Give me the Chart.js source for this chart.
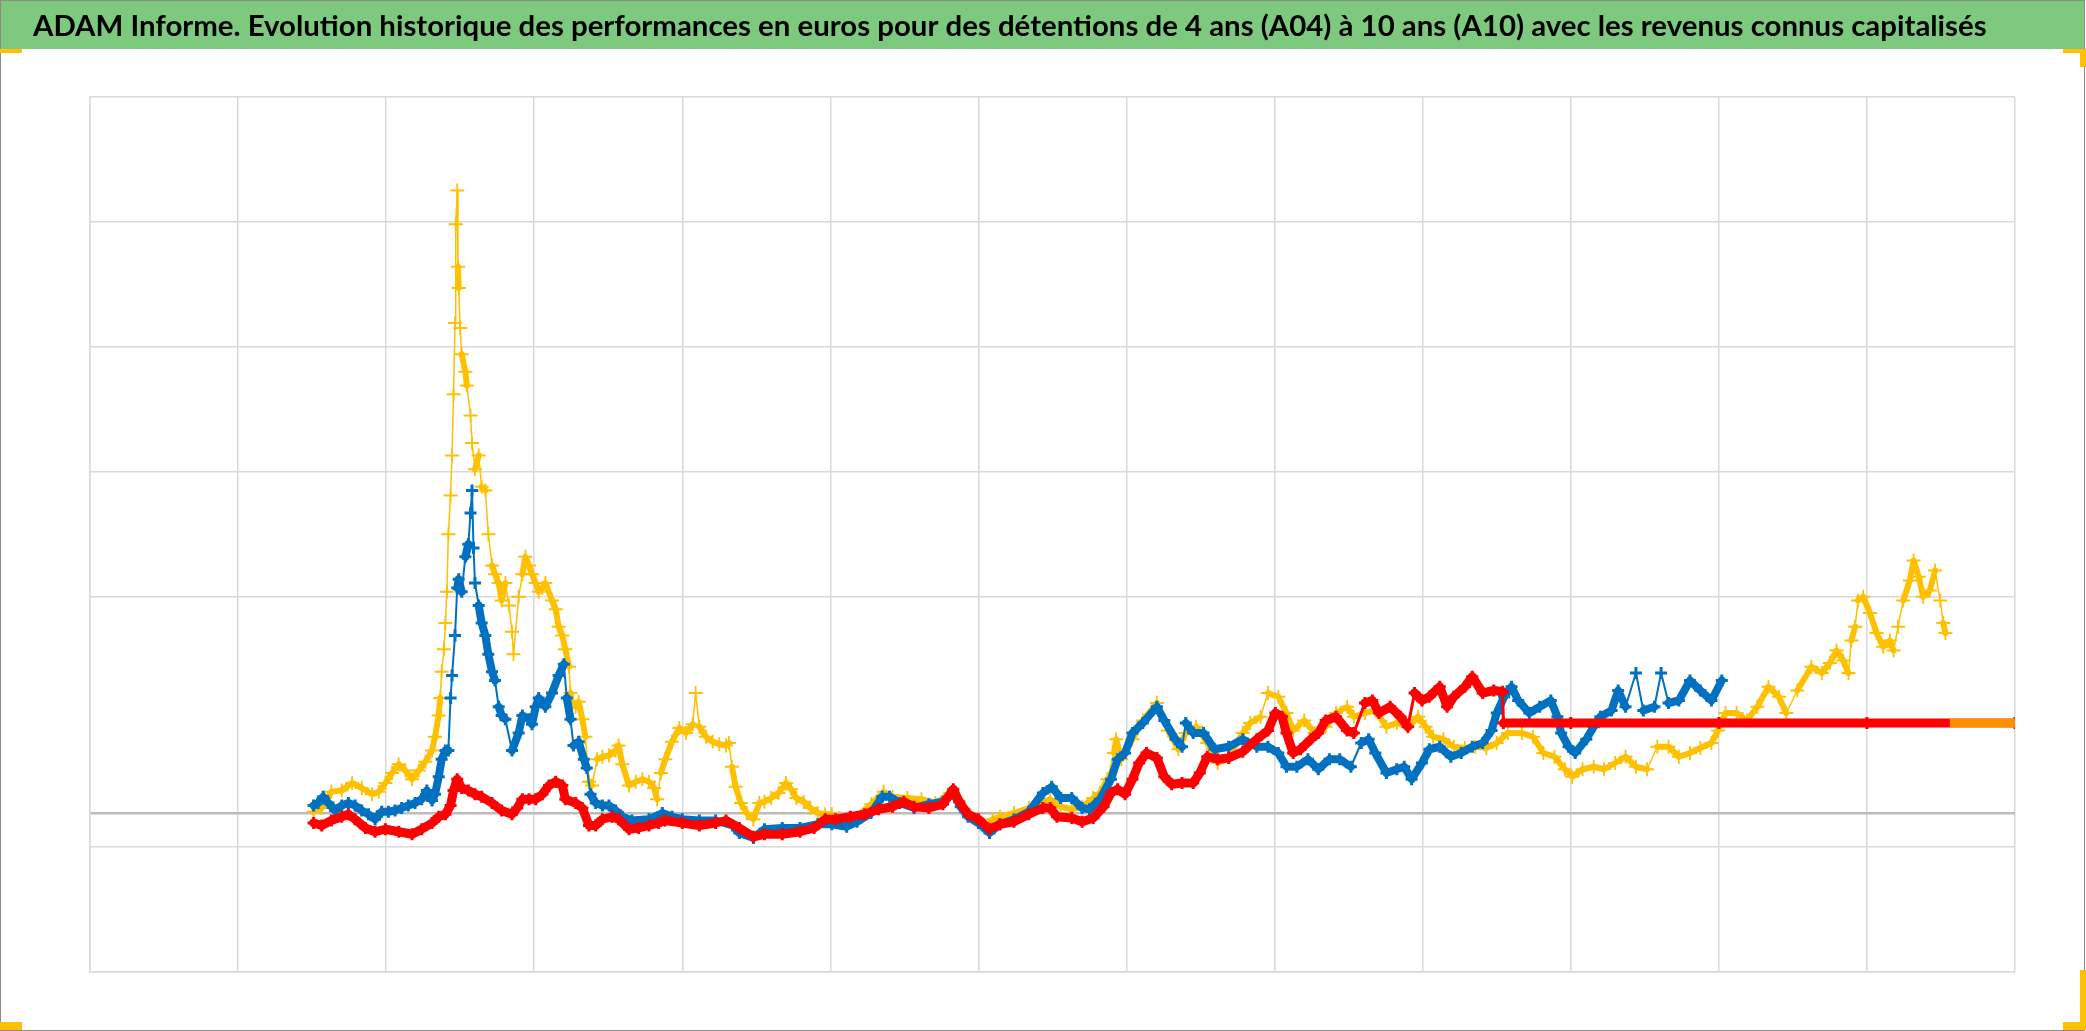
<!DOCTYPE html>
<html lang="fr">
<head>
<meta charset="utf-8">
<title>ADAM Informe</title>
<script src="https://cdn.jsdelivr.net/npm/chart.js@4.4.1/dist/chart.umd.min.js"></script>
<style>
  html, body { margin: 0; padding: 0; background: #ffffff; }
  canvas { display: block; }
</style>
</head>
<body>
<canvas id="c" width="2086" height="1031"></canvas>
<script>
// ---- Texts ----
const TITLE = "ADAM Informe. Evolution historique des performances en euros pour des détentions de 4 ans (A04) à 10 ans (A10) avec les revenus connus capitalisés";
const SERIES_NAMES = ["A04", "A07", "A10"];

// ---- Axis grid values (no labels are shown on the original) ----
const xGridMin = 0;
const xGridMax = 26;
const xGridStep = 2;
const yGridValues = [-127.2, -27.2, 0, 172.8, 272.8, 372.8, 472.8, 572.8];

// ---- Series values: [x (years), y (%)] ----
const a04 = [
  [3.02,1],[3.13,4],[3.26,17],[3.40,18],[3.54,24],[3.67,20],[3.81,15],[3.90,17],[3.99,24],[4.08,32],
  [4.17,39],[4.26,34],[4.35,27],[4.44,34],[4.53,41],[4.62,50],[4.66,61],[4.71,78],[4.73,92],[4.75,113],
  [4.78,131],[4.80,152],[4.82,177],[4.84,223],[4.87,254],[4.89,286],[4.91,335],[4.93,392],[4.94,471],[4.96,498],
  [4.97,437],[4.98,420],[5.00,388],[5.02,367],[5.07,353],[5.09,342],[5.14,318],[5.16,296],[5.20,275],[5.25,286],
  [5.29,261],[5.34,258],[5.38,223],[5.43,198],[5.47,191],[5.52,184],[5.56,170],[5.61,184],[5.66,166],[5.70,145],
  [5.72,127],[5.79,173],[5.84,191],[5.88,205],[5.93,198],[5.97,191],[6.02,184],[6.06,177],[6.11,180],[6.15,184],
  [6.24,170],[6.29,163],[6.33,149],[6.38,142],[6.42,131],[6.47,117],[6.49,96],[6.51,87],[6.56,85],[6.60,89],
  [6.65,75],[6.69,61],[6.74,25],[6.78,22],[6.85,43],[6.92,45],[7.01,46],[7.10,50],[7.14,54],[7.19,39],
  [7.28,22],[7.37,25],[7.46,27],[7.55,25],[7.62,20],[7.66,11],[7.71,32],[7.77,43],[7.86,57],[7.96,68],
  [8.05,64],[8.14,71],[8.18,96],[8.23,69],[8.32,61],[8.41,57],[8.50,55],[8.59,54],[8.63,56],[8.67,37],
  [8.72,21],[8.79,8],[8.87,0],[8.96,-5],[9.04,8],[9.11,9],[9.20,12],[9.30,16],[9.40,24],[9.47,19],
  [9.54,12],[9.64,9],[9.73,4],[9.83,0],[9.93,-1],[10.02,-1],[10.12,-4],[10.31,-5],[10.55,7],[10.72,17],
  [10.84,13],[11.04,12],[11.23,11],[11.42,8],[11.62,16],[11.71,11],[11.81,3],[11.95,-5],[12.10,-12],[12.19,-5],
  [12.29,-3],[12.48,0],[12.68,4],[12.82,8],[12.97,11],[13.11,5],[13.26,3],[13.40,5],[13.55,12],[13.64,16],
  [13.74,27],[13.83,48],[13.86,59],[13.93,43],[14.08,59],[14.22,74],[14.41,88],[14.56,66],[14.70,51],[14.80,64],
  [14.94,69],[15.09,56],[15.23,40],[15.38,45],[15.57,64],[15.67,72],[15.81,77],[15.91,96],[16.05,93],[16.16,80],
  [16.25,66],[16.40,74],[16.54,64],[16.69,69],[16.83,80],[16.98,85],[17.07,77],[17.22,80],[17.36,82],[17.51,69],
  [17.65,72],[17.80,69],[17.94,77],[18.04,69],[18.14,61],[18.28,59],[18.42,53],[18.57,52],[18.71,53],[18.86,52],
  [19.00,56],[19.15,64],[19.34,64],[19.49,61],[19.63,48],[19.78,45],[19.92,35],[20.02,29],[20.16,35],[20.31,37],
  [20.45,35],[20.60,40],[20.74,45],[20.88,37],[21.03,35],[21.17,53],[21.32,53],[21.46,45],[21.61,48],[21.75,52],
  [21.90,56],[21.99,66],[22.09,80],[22.24,80],[22.38,74],[22.52,85],[22.67,101],[22.81,93],[22.91,80],[23.06,98],
  [23.25,117],[23.39,112],[23.50,120],[23.59,130],[23.68,122],[23.75,112],[23.79,138],[23.84,149],[23.88,170],[23.95,173],
  [24.04,160],[24.13,144],[24.22,133],[24.31,138],[24.36,130],[24.42,149],[24.49,170],[24.58,186],[24.63,202],[24.70,189],
  [24.76,173],[24.85,178],[24.92,194],[24.99,170],[25.03,152],[25.06,144]
];
const a04Tail = [[25.12,72],[25.50,72],[26.00,72]];

const a07 = [
  [3.02,6],[3.08,8],[3.15,13],[3.22,8],[3.31,2],[3.40,6],[3.49,8],[3.58,6],[3.67,2],[3.76,-1],
  [3.85,-5],[3.94,1],[4.03,1],[4.12,2],[4.21,4],[4.30,6],[4.39,8],[4.48,11],[4.55,18],[4.62,10],
  [4.66,15],[4.71,29],[4.75,43],[4.80,50],[4.84,50],[4.87,92],[4.89,110],[4.93,142],[4.96,180],[4.98,187],
  [5.02,177],[5.07,205],[5.11,215],[5.14,240],[5.16,258],[5.18,212],[5.20,184],[5.25,166],[5.29,152],[5.34,142],
  [5.38,127],[5.43,113],[5.47,106],[5.52,85],[5.56,78],[5.61,75],[5.70,50],[5.79,64],[5.84,78],[5.93,75],
  [5.97,71],[6.02,85],[6.06,92],[6.15,85],[6.24,96],[6.33,110],[6.40,119],[6.44,92],[6.49,75],[6.53,54],
  [6.60,57],[6.67,43],[6.71,36],[6.76,15],[6.83,8],[6.92,6],[7.01,6],[7.10,2],[7.19,-3],[7.32,-6],
  [7.55,-5],[7.73,0],[7.86,-3],[8.00,-5],[8.23,-6],[8.45,-6],[8.68,-10],[8.77,-16],[8.96,-20],[9.11,-13],
  [9.35,-12],[9.59,-12],[9.83,-9],[10.02,-9],[10.22,-11],[10.36,-7],[10.55,0],[10.70,13],[10.80,13],[10.94,8],
  [11.13,4],[11.33,7],[11.52,9],[11.66,16],[11.76,5],[11.86,-3],[12.00,-8],[12.15,-16],[12.29,-9],[12.48,-5],
  [12.68,1],[12.87,16],[12.99,21],[13.11,12],[13.26,12],[13.40,4],[13.50,3],[13.64,11],[13.79,27],[13.88,43],
  [13.98,48],[14.08,64],[14.22,72],[14.41,85],[14.51,74],[14.66,59],[14.75,53],[14.80,72],[14.90,64],[15.04,64],
  [15.19,51],[15.38,53],[15.57,59],[15.76,53],[15.91,53],[16.05,48],[16.16,37],[16.30,37],[16.45,43],[16.59,35],
  [16.74,43],[16.88,43],[17.03,37],[17.17,56],[17.27,59],[17.36,48],[17.51,32],[17.65,35],[17.75,37],[17.85,27],
  [17.99,40],[18.09,51],[18.23,53],[18.38,45],[18.52,48],[18.67,53],[18.81,56],[18.93,66],[19.00,80],[19.10,93],
  [19.20,101],[19.29,90],[19.44,80],[19.58,85],[19.73,90],[19.82,77],[19.87,64],[19.97,53],[20.06,48],[20.21,59],
  [20.31,69],[20.40,77],[20.55,82],[20.64,98],[20.74,85],[20.88,112],[20.98,82],[21.13,85],[21.22,112],[21.32,88],
  [21.46,90],[21.61,106],[21.75,98],[21.90,90],[22.04,106]
];

const a10 = [
  [3.02,-8],[3.13,-10],[3.26,-6],[3.40,-3],[3.49,-1],[3.58,-5],[3.72,-12],[3.85,-15],[3.99,-13],[4.17,-15],
  [4.35,-17],[4.48,-13],[4.62,-8],[4.71,-3],[4.80,-1],[4.87,6],[4.91,18],[4.96,27],[5.02,20],[5.11,18],
  [5.20,15],[5.29,13],[5.43,8],[5.56,2],[5.70,-1],[5.77,4],[5.84,11],[5.93,11],[6.02,11],[6.11,15],
  [6.20,22],[6.29,25],[6.38,22],[6.42,11],[6.56,8],[6.65,4],[6.74,-10],[6.83,-10],[6.92,-5],[7.05,-3],
  [7.14,-5],[7.28,-13],[7.41,-12],[7.55,-10],[7.68,-8],[7.77,-6],[8.00,-8],[8.23,-10],[8.45,-8],[8.59,-6],
  [8.77,-12],[8.96,-19],[9.11,-17],[9.35,-17],[9.59,-15],[9.78,-12],[9.93,-5],[10.07,-5],[10.27,-3],[10.46,-1],
  [10.65,3],[10.84,5],[10.99,9],[11.13,5],[11.33,4],[11.52,7],[11.66,19],[11.74,9],[11.86,-1],[12.00,-5],
  [12.15,-13],[12.29,-9],[12.48,-7],[12.68,-1],[12.87,4],[12.97,4],[13.06,-3],[13.26,-4],[13.40,-7],[13.55,-4],
  [13.69,5],[13.79,16],[13.88,19],[13.98,15],[14.08,27],[14.17,40],[14.27,48],[14.41,44],[14.51,29],[14.61,23],
  [14.75,24],[14.90,24],[14.99,32],[15.09,45],[15.23,43],[15.38,44],[15.57,49],[15.76,59],[15.91,66],[16.01,80],
  [16.10,77],[16.16,64],[16.25,48],[16.35,51],[16.49,59],[16.59,64],[16.69,74],[16.83,77],[16.98,66],[17.07,64],
  [17.22,88],[17.32,90],[17.41,80],[17.56,85],[17.70,77],[17.80,69],[17.89,96],[17.99,90],[18.09,93],[18.23,101],
  [18.33,85],[18.42,93],[18.57,101],[18.67,109],[18.81,96],[18.96,98],[19.08,97],
  [19.09,72],[20.00,72],[22.00,72],[24.00,72],[26.00,72]
];

// ---- Colours ----
const COL_A04 = '#FFC000';
const COL_A07 = '#0070C0';
const COL_A10 = '#FF0000';

const toPts = arr => arr.map(([x, y]) => ({ x, y }));

// Steep jumps between successive readings are drawn thin (scattered markers in the original)
const steepWidth = (thick, thin) => ctx => {
  const dy = Math.abs(ctx.p1.y - ctx.p0.y);
  const dx = Math.abs(ctx.p1.x - ctx.p0.x);
  return (dy > 22 && dy > 2 * dx) ? thin : thick;
};

// ---- Title font sizing (fit the original text width) ----
const TITLE_FONT = 'Lato, "Open Sans", "DejaVu Sans", sans-serif';
const mctx = document.createElement('canvas').getContext('2d');
mctx.font = 'bold 30px ' + TITLE_FONT;
const titleSize = Math.round(30 * 1952 / mctx.measureText(TITLE).width * 10) / 10;
const titleLine = 1.2 * titleSize;
const titlePadTop = Math.max(0, 27 - titleLine / 2);
const titlePadBottom = 97 - titlePadTop - titleLine;

// ---- Decorations: white background, green title band, frame, selection handles ----
const decor = {
  id: 'decor',
  beforeDraw(chart) {
    const ctx = chart.ctx;
    const W = chart.width, H = chart.height;
    ctx.save();
    ctx.fillStyle = '#ffffff';
    ctx.fillRect(0, 0, W, H);
    ctx.fillStyle = '#7DC97D';
    ctx.fillRect(0, 0, 2085, 49);
    ctx.strokeStyle = '#8c8c8c';
    ctx.lineWidth = 1;
    ctx.strokeRect(0.5, 0.5, 2084, 1030);
    ctx.restore();
  },
  afterDraw(chart) {
    const ctx = chart.ctx;
    ctx.save();
    ctx.fillStyle = '#FFC000';
    ctx.fillRect(0, 49, 22, 4);
    ctx.fillRect(2063, 49, 23, 4);
    ctx.fillRect(2080, 49, 6, 18);
    ctx.fillRect(0, 1022, 22, 8);
    ctx.fillRect(2063, 1022, 23, 8);
    ctx.fillRect(2080, 970, 6, 60);
    ctx.restore();
  }
};

const common = {
  showLine: true,
  tension: 0,
  pointStyle: 'cross',
  pointHoverRadius: 0,
  borderJoinStyle: 'round',
  borderCapStyle: 'round'
};

new Chart(document.getElementById('c'), {
  type: 'scatter',
  data: {
    datasets: [
      Object.assign({}, common, {
        label: SERIES_NAMES[0] + ' (fin)',
        data: toPts(a04Tail),
        borderColor: 'rgba(255,192,0,0.75)',
        backgroundColor: 'rgba(255,192,0,0.75)',
        borderWidth: 9,
        borderCapStyle: 'butt',
        pointRadius: 0
      }),
      Object.assign({}, common, {
        label: SERIES_NAMES[2],
        data: toPts(a10),
        borderColor: COL_A10,
        backgroundColor: COL_A10,
        borderWidth: 9,
        pointRadius: 6,
        pointBorderWidth: 3,
        segment: { borderWidth: steepWidth(9, 3) }
      }),
      Object.assign({}, common, {
        label: SERIES_NAMES[1],
        data: toPts(a07),
        borderColor: COL_A07,
        backgroundColor: COL_A07,
        borderWidth: 8,
        pointRadius: 6,
        pointBorderWidth: 3,
        segment: { borderWidth: steepWidth(8, 2) }
      }),
      Object.assign({}, common, {
        label: SERIES_NAMES[0],
        data: toPts(a04),
        borderColor: COL_A04,
        backgroundColor: COL_A04,
        borderWidth: 6,
        pointRadius: 7,
        pointBorderWidth: 1.8,
        segment: { borderWidth: steepWidth(6, 1.5) }
      })
    ]
  },
  options: {
    responsive: false,
    animation: false,
    events: [],
    layout: { padding: { left: 33, right: 71, top: 0, bottom: 59 } },
    plugins: {
      legend: { display: false },
      tooltip: { enabled: false },
      title: {
        display: true,
        text: TITLE,
        align: 'start',
        color: '#000000',
        font: { family: TITLE_FONT, size: titleSize, weight: 'bold', lineHeight: 1.2 },
        padding: { top: titlePadTop, bottom: titlePadBottom }
      }
    },
    scales: {
      x: {
        type: 'linear',
        min: xGridMin,
        max: xGridMax,
        ticks: { display: false, stepSize: xGridStep },
        grid: { color: '#d9d9d9', lineWidth: 1.5, drawTicks: false },
        border: { display: true, color: '#d9d9d9', width: 1.5 }
      },
      y: {
        type: 'linear',
        min: yGridValues[0],
        max: yGridValues[yGridValues.length - 1],
        afterBuildTicks: scale => { scale.ticks = yGridValues.map(v => ({ value: v })); },
        afterFit: scale => { scale.width = 57; },
        ticks: { display: false },
        grid: {
          drawTicks: false,
          color: ctx => (ctx.tick && ctx.tick.value === 0) ? '#bcbcbc' : '#d9d9d9',
          lineWidth: ctx => (ctx.tick && ctx.tick.value === 0) ? 2.5 : 1.5
        },
        border: { display: true, color: '#d9d9d9', width: 1.5 }
      }
    }
  },
  plugins: [decor]
});
</script>
</body>
</html>
